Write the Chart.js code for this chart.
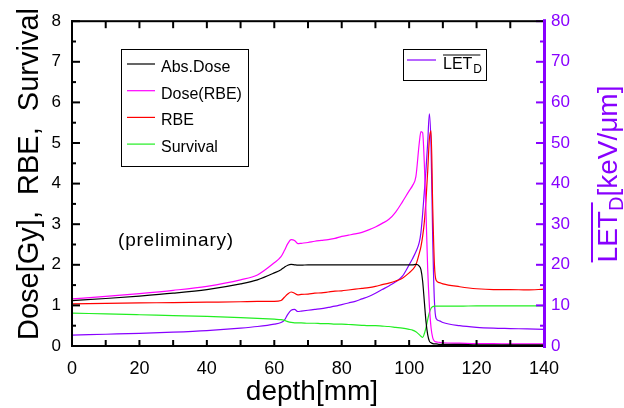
<!DOCTYPE html>
<html>
<head>
<meta charset="utf-8">
<script src="https://cdn.jsdelivr.net/npm/chart.js@4.4.1/dist/chart.umd.min.js"></script>
<style>
  html, body { margin: 0; padding: 0; background: #fff; }
  #wrap { width: 624px; height: 408px; }
</style>
</head>
<body>
<div id="wrap"><canvas id="chart"></canvas></div>
<script>
const PURPLE = '#8800ff';
const GREEN  = '#22ee22';

// depth grid [mm]
const depth = [0, 10, 20, 30, 40, 50, 55, 60, 62, 63, 64, 65, 66, 67, 68,
  70, 72, 74, 76, 78, 80, 82, 84, 86, 88, 90, 92, 94, 96, 98, 100,
  101, 102, 103, 103.5, 104, 104.5, 105, 105.5, 106, 106.5, 107, 107.5,
  108, 109, 110, 115, 120, 125, 130, 135, 140];

const absDose = [1.12, 1.17, 1.23, 1.30, 1.39, 1.53, 1.63, 1.80, 1.88, 1.94, 1.99, 2.01, 2.00, 1.99, 1.99,
  2.00, 2.00, 2.00, 2.00, 2.00, 2.00, 2.00, 2.00, 2.00, 2.00, 2.00, 2.00, 2.00, 2.00, 2.00, 2.00,
  2.00, 2.01, 1.97, 1.88, 1.60, 1.10, 0.60, 0.28, 0.12, 0.08, 0.06, 0.05,
  0.05, 0.04, 0.04, 0.04, 0.03, 0.03, 0.03, 0.03, 0.03];

const doseRBE = [1.16, 1.22, 1.29, 1.37, 1.47, 1.63, 1.75, 2.05, 2.20, 2.35, 2.52, 2.62, 2.60, 2.52, 2.53,
  2.55, 2.58, 2.60, 2.62, 2.65, 2.70, 2.73, 2.76, 2.80, 2.86, 2.93, 3.02, 3.12, 3.30, 3.55, 3.82,
  3.95, 4.17, 5.00, 5.28, 5.25, 4.50, 3.30, 1.90, 1.00, 0.45, 0.20, 0.12,
  0.10, 0.09, 0.08, 0.07, 0.06, 0.06, 0.05, 0.05, 0.05];

const rbe = [1.04, 1.05, 1.06, 1.07, 1.08, 1.09, 1.10, 1.10, 1.12, 1.20, 1.28, 1.33, 1.30, 1.26, 1.27,
  1.28, 1.30, 1.31, 1.33, 1.35, 1.36, 1.38, 1.40, 1.42, 1.44, 1.47, 1.51, 1.55, 1.60, 1.67, 1.80,
  1.88, 2.00, 2.28, 2.45, 2.70, 3.05, 3.60, 4.30, 5.10, 5.30, 3.40, 2.00,
  1.62, 1.56, 1.53, 1.46, 1.41, 1.39, 1.39, 1.38, 1.40];

const survival = [0.81, 0.79, 0.77, 0.75, 0.73, 0.70, 0.68, 0.66, 0.65, 0.63, 0.60, 0.58, 0.57, 0.57, 0.57,
  0.56, 0.56, 0.55, 0.55, 0.54, 0.54, 0.53, 0.52, 0.51, 0.50, 0.50, 0.49, 0.48, 0.46, 0.44, 0.41,
  0.39, 0.35, 0.28, 0.24, 0.21, 0.30, 0.45, 0.65, 0.82, 0.93, 0.97, 0.98,
  0.98, 0.98, 0.98, 0.98, 0.99, 0.99, 0.99, 0.99, 0.99];

// dose-averaged LET [keV/um], right axis
const letD = [2.7, 2.9, 3.1, 3.4, 3.8, 4.4, 4.8, 5.4, 5.8, 6.4, 7.8, 8.8, 9.0, 8.5, 8.6,
  8.8, 9.0, 9.2, 9.5, 9.8, 10.2, 10.6, 11.0, 11.6, 12.2, 13.0, 13.9, 14.8, 15.8, 17.2, 20.0,
  21.5, 23.2, 25.5, 28.0, 32.5, 38.0, 43.5, 50.0, 57.2, 49.0, 26.0, 11.0,
  6.8, 6.2, 5.8, 5.0, 4.6, 4.4, 4.3, 4.2, 4.1];

const xTicks = [0, 20, 40, 60, 80, 100, 120, 140];

const pts = arr => depth.map((d, i) => ({ x: d, y: arr[i] }));

const serie = (label, arr, color, axis) => ({
  label,
  data: pts(arr),
  borderColor: color,
  backgroundColor: color,
  borderWidth: 1.2,
  pointRadius: 0,
  cubicInterpolationMode: 'monotone',
  yAxisID: axis,
});

// frame, inward ticks, legends and titles
const decor = {
  id: 'decor',
  afterDraw(chart) {
    const ctx = chart.ctx;
    const a = chart.chartArea;
    const sx = chart.scales.x, sy = chart.scales.y, sr = chart.scales.y1;
    const L = a.left, R = a.right, T = a.top, B = a.bottom;
    ctx.save();

    // inward tick marks
    ctx.fillStyle = '#000000';
    for (let v = 0; v <= 140; v += 10) {
      const px = sx.getPixelForValue(v);
      ctx.fillRect(px - 1, B - 6, 2, 6);
      ctx.fillRect(px - 1, T, 2, 7);
    }
    for (let k = 0; k <= 16; k++) {
      const py = sy.getPixelForValue(k / 2);
      ctx.fillRect(L, py - 1, k % 2 === 0 ? 8 : 4, 2);
    }
    ctx.fillStyle = PURPLE;
    for (let k = 0; k <= 16; k++) {
      const py = sr.getPixelForValue(k * 5);
      const len = k % 2 === 0 ? 8 : 4;
      ctx.fillRect(R - len, py - 1, len, 2);
    }

    // frame
    ctx.fillStyle = '#000000';
    ctx.fillRect(L - 1, T - 1, R - L + 1, 2);
    ctx.fillRect(L - 1, B - 1, R - L + 1, 2);
    ctx.fillRect(L - 1, T - 1, 2, B - T + 2);
    ctx.fillStyle = PURPLE;
    ctx.fillRect(R - 1, T - 2, 3, B - T + 4);

    // legend 1
    ctx.lineWidth = 1;
    ctx.strokeStyle = '#000000';
    ctx.strokeRect(121.5, 49.5, 127, 117);
    const items = chart.data.datasets.slice(0, 4);
    ctx.font = '16px "Liberation Sans", Arial, sans-serif';
    ctx.textBaseline = 'alphabetic';
    items.forEach((ds, i) => {
      const yl = 64 + i * 26.7;
      ctx.fillStyle = ds.borderColor;
      ctx.fillRect(127, yl - 0.6, 28, 1.2);
      ctx.fillStyle = '#000000';
      ctx.fillText(ds.label, 161, yl + 8);
    });

    // legend 2 (LET_D)
    ctx.strokeStyle = '#000000';
    ctx.strokeRect(403.5, 49.5, 83, 31);
    ctx.fillStyle = PURPLE;
    ctx.fillRect(407, 59.4, 29, 1.2);
    ctx.fillStyle = '#000000';
    ctx.fillText('LET', 443, 68.5);
    const wLet = ctx.measureText('LET').width;
    ctx.fillRect(443, 54.5, wLet + 8, 1);
    ctx.font = '12px "Liberation Sans", Arial, sans-serif';
    ctx.fillText('D', 443 + wLet + 1, 73);

    // note
    ctx.font = '19px "Liberation Sans", Arial, sans-serif';
    ctx.letterSpacing = '0.8px';
    ctx.fillText('(preliminary)', 118, 246);
    ctx.letterSpacing = '0px';

    // x title
    ctx.font = '28px "Liberation Sans", Arial, sans-serif';
    ctx.textAlign = 'center';
    ctx.fillText('depth[mm]', 312, 400);

    // left title
    ctx.save();
    ctx.translate(38, 174);
    ctx.rotate(-Math.PI / 2);
    ctx.font = '29px "Liberation Sans", Arial, sans-serif';
    ctx.fillText('Dose[Gy],  RBE,  Survival', 0, 0);
    ctx.restore();

    // right title with overline and subscript
    ctx.save();
    ctx.translate(617, 174);
    ctx.rotate(-Math.PI / 2);
    ctx.fillStyle = PURPLE;
    ctx.textAlign = 'left';
    const big = '28px "Liberation Sans", Arial, sans-serif';
    const small = '20px "Liberation Sans", Arial, sans-serif';
    ctx.font = big;
    const w1 = ctx.measureText('LET').width;
    const w3 = ctx.measureText('[keV/\u03bcm]').width;
    ctx.font = small;
    const w2 = ctx.measureText('D').width;
    const x0 = -(w1 + w2 + w3) / 2;
    ctx.font = big;
    ctx.fillText('LET', x0, 0);
    ctx.fillRect(x0, -26, w1 + w2 * 0.6, 2);
    ctx.font = small;
    ctx.fillText('D', x0 + w1, 6);
    ctx.font = big;
    ctx.fillText('[keV/\u03bcm]', x0 + w1 + w2, 0);
    ctx.restore();

    ctx.restore();
  }
};

new Chart(document.getElementById('chart'), {
  type: 'line',
  data: {
    datasets: [
      serie('Abs.Dose', absDose, '#000000', 'y'),
      serie('Dose(RBE)', doseRBE, '#ff00ff', 'y'),
      serie('RBE', rbe, '#ff0000', 'y'),
      serie('Survival', survival, GREEN, 'y'),
      serie('LET_D', letD, PURPLE, 'y1'),
    ]
  },
  options: {
    responsive: true,
    maintainAspectRatio: false,
    animation: false,
    layout: { padding: { top: 15, left: 0, right: 0, bottom: 0 } },
    plugins: { legend: { display: false }, tooltip: { enabled: false } },
    scales: {
      x: {
        type: 'linear', min: 0, max: 140,
        afterBuildTicks: s => { s.ticks = xTicks.map(v => ({ value: v })); },
        afterFit: s => { s.height = 62; },
        grid: { display: false, drawTicks: false },
        border: { display: false },
        ticks: { color: '#000', padding: 12, maxRotation: 0,
                 font: { family: '"Liberation Sans", Arial, sans-serif', size: 18 } }
      },
      y: {
        min: 0, max: 8,
        afterFit: s => { s.width = 72; },
        grid: { display: false, drawTicks: false },
        border: { display: false },
        ticks: { stepSize: 1, color: '#000', padding: 11,
                 font: { family: '"Liberation Sans", Arial, sans-serif', size: 17 } }
      },
      y1: {
        position: 'right', min: 0, max: 80,
        afterFit: s => { s.width = 80; },
        grid: { display: false, drawTicks: false },
        border: { display: false },
        ticks: { stepSize: 10, color: PURPLE, padding: 7,
                 font: { family: '"Liberation Sans", Arial, sans-serif', size: 17 } }
      }
    }
  },
  plugins: [decor]
});
</script>
</body>
</html>
